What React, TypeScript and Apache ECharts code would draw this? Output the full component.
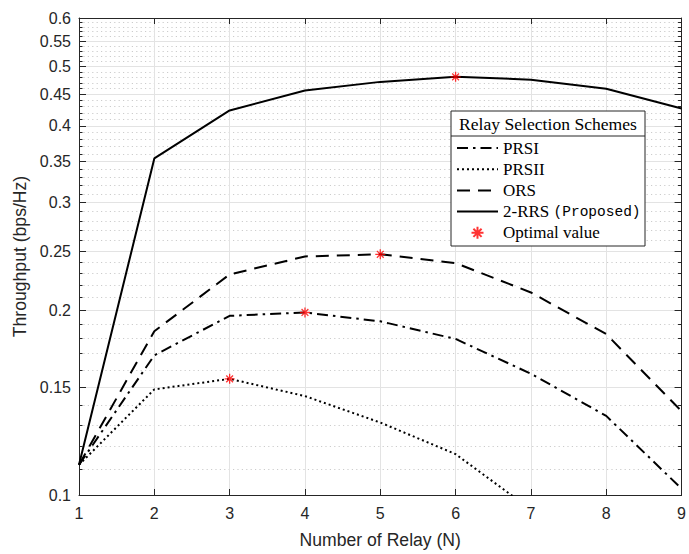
import React, { useEffect, useRef } from "react";
import * as echarts from "echarts";

const relayCounts = [1, 2, 3, 4, 5, 6, 7, 8, 9];
const prsiValues = [0.112, 0.169, 0.196, 0.1985, 0.192, 0.1797, 0.1577, 0.1346, 0.1024];
const prsiiValues = [0.112, 0.1487, 0.1547, 0.145, 0.1313, 0.1166, 0.0947];
const orsValues = [0.112, 0.185, 0.229, 0.245, 0.247, 0.239, 0.214, 0.183, 0.137];
const rrsValues = [0.112, 0.354, 0.424, 0.457, 0.472, 0.481, 0.476, 0.46, 0.427];
const optimalX = [6, 5, 4, 3];
const optimalY = [0.481, 0.247, 0.1985, 0.1547];
const yMajorTicks = [0.1, 0.15, 0.2, 0.25, 0.3, 0.35, 0.4, 0.45, 0.5, 0.55, 0.6];
const yMinorTicks = [
  0.11, 0.12, 0.13, 0.14, 0.16, 0.17, 0.18, 0.19, 0.21, 0.22, 0.23, 0.24,
  0.26, 0.27, 0.28, 0.29, 0.31, 0.32, 0.33, 0.34, 0.36, 0.37, 0.38, 0.39,
  0.41, 0.42, 0.43, 0.44, 0.46, 0.47, 0.48, 0.49, 0.51, 0.52, 0.53, 0.54,
  0.56, 0.57, 0.58, 0.59,
];
const lineLegendNames = ["PRSI", "PRSII", "ORS", "2-RRS (Proposed)"];
const markerLegendName = "Optimal value";

const AXIS = "#262626";
const SANS = "Liberation Sans, Arial, sans-serif";
const SERIF = "Liberation Serif, Times New Roman, serif";
const MONO = "Liberation Mono, monospace";

const asterisk = "path://M5,0L5,10M0,5L10,5M1.6,1.6L8.4,8.4M1.6,8.4L8.4,1.6";

export default function App() {
  const ref = useRef<HTMLDivElement>(null);
  useEffect(() => {
    if (!ref.current) return;
    const chart = echarts.init(ref.current, null, { renderer: "svg" });
    const fmt = (v: number) => String(Math.round(v * 100) / 100);
    const logAxis = (extra: any) => ({
      type: "log",
      logBase: 10,
      min: 0.1,
      max: 0.6,
      ...extra,
    });
    chart.setOption({
      animation: false,
      backgroundColor: "#ffffff",
      grid: { left: 79, right: 2, top: 18, bottom: 56, containLabel: false },
      xAxis: [
        {
          type: "value",
          min: 1,
          max: 9,
          interval: 1,
          position: "bottom",
          name: "Number of Relay (N)",
          nameLocation: "middle",
          nameGap: 36,
          nameTextStyle: { fontFamily: SANS, fontSize: 17.6, color: AXIS },
          axisLine: { show: true, lineStyle: { color: AXIS, width: 1 } },
          axisTick: { show: true, inside: true, length: 6, lineStyle: { color: AXIS } },
          axisLabel: { fontFamily: SANS, fontSize: 16, color: AXIS, margin: 10 },
          splitLine: { show: true, lineStyle: { color: "#e3e3e3", width: 1 } },
        },
        {
          type: "value",
          min: 1,
          max: 9,
          interval: 1,
          position: "top",
          axisLine: { show: true, lineStyle: { color: AXIS, width: 1 } },
          axisTick: { show: true, inside: true, length: 6, lineStyle: { color: AXIS } },
          axisLabel: { show: false },
          splitLine: { show: false },
        },
      ],
      yAxis: [
        logAxis({
          position: "left",
          name: "Throughput (bps/Hz)",
          nameLocation: "middle",
          nameGap: 50,
          nameRotate: 90,
          nameTextStyle: { fontFamily: SANS, fontSize: 17.6, color: AXIS },
          axisLine: { show: true, lineStyle: { color: AXIS, width: 1 } },
          axisTick: { show: true, inside: true, length: 7, customValues: yMajorTicks, lineStyle: { color: AXIS } },
          axisLabel: { customValues: yMajorTicks, fontFamily: SANS, fontSize: 16, color: AXIS, margin: 8, formatter: fmt },
          splitLine: { show: true, lineStyle: { color: "#e3e3e3", width: 1 } },
        }),
        logAxis({
          position: "left",
          axisLine: { show: false },
          axisTick: { show: true, inside: true, length: 3.5, customValues: yMinorTicks, lineStyle: { color: AXIS } },
          axisLabel: { show: false, customValues: yMinorTicks },
          splitLine: { show: true, lineStyle: { color: "#cccccc", width: 1, type: [1.2, 3.2] } },
        }),
        logAxis({
          position: "right",
          axisLine: { show: true, lineStyle: { color: AXIS, width: 1 } },
          axisTick: { show: true, inside: true, length: 7, customValues: yMajorTicks, lineStyle: { color: AXIS } },
          axisLabel: { show: false, customValues: yMajorTicks },
          splitLine: { show: false },
        }),
        logAxis({
          position: "right",
          axisLine: { show: false },
          axisTick: { show: true, inside: true, length: 3.5, customValues: yMinorTicks, lineStyle: { color: AXIS } },
          axisLabel: { show: false, customValues: yMinorTicks },
          splitLine: { show: false },
        }),
      ],
      legend: {
        data: [
          ...lineLegendNames.map((name) => ({
            name,
            itemStyle: { opacity: 0, color: "rgba(0,0,0,0)", borderWidth: 0 },
          })),
          { name: markerLegendName },
        ],
        orient: "vertical",
        left: 456,
        top: 138,
        padding: 0,
        itemWidth: 41,
        itemHeight: 12,
        itemGap: 1.2,
        z: 20,
        textStyle: {
          fontFamily: SERIF,
          fontSize: 17,
          lineHeight: 20,
          color: "#000",
          rich: { mono: { fontFamily: MONO, fontSize: 14.5, lineHeight: 20, color: "#000" } },
        },
        formatter: (name: string) =>
          name === "2-RRS (Proposed)" ? "2-RRS {mono|(Proposed)}" : name,
      },
      graphic: [
        {
          type: "rect",
          z: 10,
          shape: { x: 451, y: 111, width: 194, height: 135 },
          style: { fill: "#ffffff", stroke: AXIS, lineWidth: 1 },
        },
        {
          type: "line",
          z: 11,
          shape: { x1: 451, y1: 136, x2: 645, y2: 136 },
          style: { stroke: AXIS, lineWidth: 1 },
        },
        {
          type: "text",
          z: 11,
          x: 548,
          y: 124,
          style: {
            text: "Relay Selection Schemes",
            fontFamily: SERIF,
            fontSize: 17.6,
            fill: "#000",
            align: "center",
            verticalAlign: "middle",
          },
        },
      ],
      series: [
        {
          name: "PRSI",
          type: "line",
          data: relayCounts.map((x, i) => [x, prsiValues[i]]),
          showSymbol: false,
          symbol: "none",
          lineStyle: { color: "#000", width: 2, type: [11, 5, 2.5, 5] },
          itemStyle: { color: "#000" },
        },
        {
          name: "PRSII",
          type: "line",
          data: prsiiValues.map((v, i) => [relayCounts[i], v]),
          showSymbol: false,
          symbol: "none",
          lineStyle: { color: "#000", width: 2, type: [2, 3] },
          itemStyle: { color: "#000" },
        },
        {
          name: "ORS",
          type: "line",
          data: relayCounts.map((x, i) => [x, orsValues[i]]),
          showSymbol: false,
          symbol: "none",
          lineStyle: { color: "#000", width: 2, type: [13, 8] },
          itemStyle: { color: "#000" },
        },
        {
          name: "2-RRS (Proposed)",
          type: "line",
          data: relayCounts.map((x, i) => [x, rrsValues[i]]),
          showSymbol: false,
          symbol: "none",
          lineStyle: { color: "#000", width: 2, type: "solid" },
          itemStyle: { color: "#000" },
        },
        {
          name: markerLegendName,
          type: "scatter",
          data: optimalX.map((x, i) => [x, optimalY[i]]),
          symbol: asterisk,
          symbolSize: 10,
          z: 5,
          itemStyle: { color: "rgba(0,0,0,0)", borderColor: "#ff0000", borderWidth: 1.3 },
        },
      ],
    });
    return () => chart.dispose();
  }, []);
  return (
    <div
      ref={ref}
      style={{ position: "absolute", left: 0, top: 0, width: 689, height: 554 }}
    />
  );
}
